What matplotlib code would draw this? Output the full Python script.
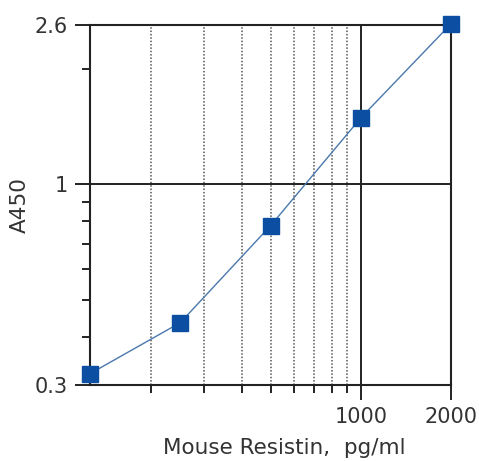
import matplotlib.pyplot as plt
from matplotlib.ticker import FixedLocator, NullFormatter

plt.rcParams['font.family'] = ['DejaVu Sans']

# standard curve values
conc = [125, 250, 500, 1000, 2000]
a450 = [0.321, 0.436, 0.78, 1.49, 2.62]

x_major = [1000, 2000]
x_minor = [200, 300, 400, 500, 600, 700, 800, 900]
y_major = [0.3, 1, 2.6]
y_labels = ["0.3", "1", "2.6"]
y_minor = [0.4, 0.5, 0.6, 0.7, 0.8, 0.9, 2]

fig = plt.figure(figsize=(4.79, 4.61), dpi=100)
ax = fig.add_axes([0.188, 0.165, 0.754, 0.781])

ax.set_xscale("log")
ax.set_yscale("log")
ax.set_xlim(125, 2000)
ax.set_ylim(0.3, 2.6)

ax.xaxis.set_major_locator(FixedLocator(x_major))
ax.xaxis.set_minor_locator(FixedLocator(x_minor))
ax.set_xticklabels([str(v) for v in x_major])
ax.xaxis.set_minor_formatter(NullFormatter())

ax.yaxis.set_major_locator(FixedLocator(y_major))
ax.yaxis.set_minor_locator(FixedLocator(y_minor))
ax.set_yticklabels(y_labels)
ax.yaxis.set_minor_formatter(NullFormatter())

ax.grid(which="major", color="#222222", linewidth=1.4)
ax.grid(which="minor", axis="x", color="#555555", linestyle=(0, (1, 1.2)), linewidth=1.1)
ax.set_axisbelow(True)

ax.plot(conc, a450, color="#4a78ad", linewidth=1.0, marker="s", markersize=12,
        markerfacecolor="#0b4ea2", markeredgecolor="#0b4ea2", clip_on=False, zorder=5)

for s in ax.spines.values():
    s.set_linewidth(1.5)
    s.set_color("#222222")

ax.tick_params(which="major", length=11, width=1.4, color="#222222",
               labelsize=15, labelcolor="#333333", pad=5)
ax.tick_params(which="minor", length=6, width=1.4, color="#222222")

ax.set_xlabel("Mouse Resistin,  pg/ml", fontsize=15.5, color="#333333")
ax.xaxis.set_label_coords(0.537, -0.148)
ax.set_ylabel("A450", fontsize=15.5, color="#333333")
ax.yaxis.set_label_coords(-0.166, 0.5)

fig.savefig("out.png", dpi=100)
